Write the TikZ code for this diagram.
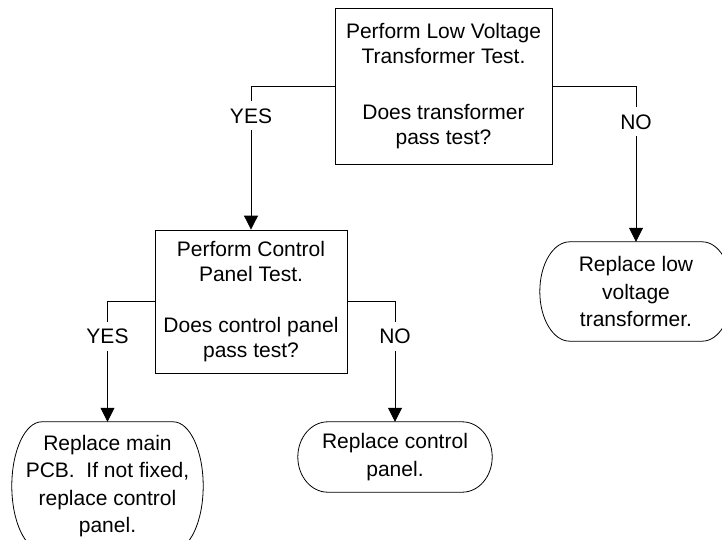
\documentclass[tikz,border=0pt]{standalone}
\usepackage{fontspec}
\setmainfont{Liberation Sans}
\usetikzlibrary{arrows.meta,calc}
\newcommand\termoutline[2]{%
  \draw[shapeline] let \p1=(#1.north west), \p2=(#1.south east), \n1={(\y1-\y2)/2} in
    (\x1+#2,\y1) -- (\x2-#2,\y1)
    arc[start angle=90,end angle=-90,x radius=#2,y radius=\n1]
    -- (\x1+#2,\y2)
    arc[start angle=270,end angle=90,x radius=#2,y radius=\n1] -- cycle;}
\begin{document}
\begin{tikzpicture}[x=1pt,y=1pt,
  shapeline/.style={draw=black,line width=0.8pt},
  decision/.style={shapeline, rectangle, align=center, inner sep=0pt, font=\fontsize{21}{25.5}\selectfont},
  terminal/.style={align=center, inner sep=0pt, font=\fontsize{21}{27.5}\selectfont},
  conn/.style={draw=black,line width=0.8pt,-{Triangle[length=14pt,width=14pt]}},
  lbl/.style={fill=white, inner xsep=2pt, inner ysep=7pt, font=\fontsize{21}{25}\selectfont}]
\useasboundingbox (0,0) rectangle (722,-540);
\node[decision, minimum width=217pt, minimum height=156pt] (b1) at (443.5,-86)
  {Perform Low Voltage\\Transformer Test.\\[30pt]Does transformer\\pass test?};
\node[decision, minimum width=192pt, minimum height=143pt] (b2) at (251,-301.5)
  {Perform Control\\Panel Test.\\[25pt]Does control panel\\pass test?};
\node[terminal, minimum width=192pt, minimum height=99pt] (t1) at (636,-291.5)
  {Replace low\\voltage\\transformer.};
\node[terminal, minimum width=194pt, minimum height=70pt] (t2) at (395,-457)
  {Replace control\\panel.};
\node[terminal, minimum width=191pt, minimum height=128pt] (t3) at (107.5,-486)
  {Replace main\\PCB.\ \ If not fixed,\\replace control\\panel.};
\termoutline{t1}{30pt}
\termoutline{t2}{30pt}
\termoutline{t3}{30pt}
\draw[conn] (b1.west) -| node[lbl,pos=0.604]{YES} (b2.north);
\draw[conn] (b1.east) -| node[lbl,pos=0.615]{NO} (t1.north);
\draw[conn] (b2.west) -| node[lbl,pos=0.646]{YES} (t3.north);
\draw[conn] (b2.east) -| node[lbl,pos=0.646]{NO} (t2.north);
\end{tikzpicture}
\end{document}
